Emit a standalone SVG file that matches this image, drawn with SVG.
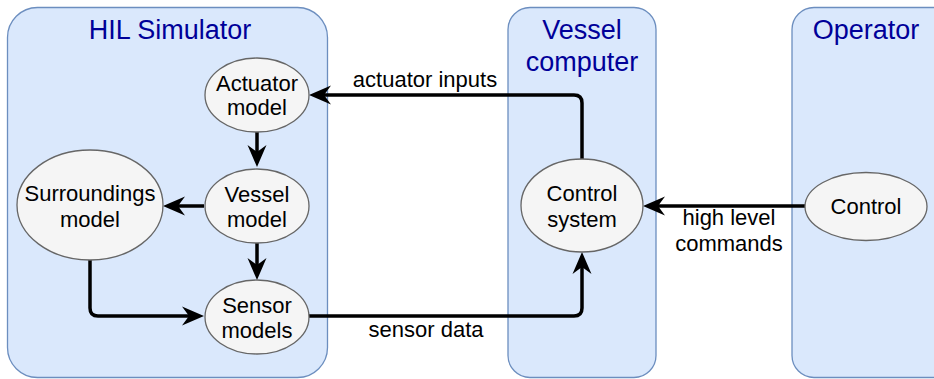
<svg xmlns="http://www.w3.org/2000/svg" width="934" height="379" viewBox="0 0 934 379">
<style>
.cont{fill:#dae8fc;stroke:#6c8ebf;stroke-width:1.3}
.title{font-family:"Liberation Sans",Arial,sans-serif;font-size:27px;fill:#000099;text-anchor:middle}
.node{fill:#f5f5f5;stroke:#666666;stroke-width:1.3}
.lbl{font-family:"Liberation Sans",Arial,sans-serif;font-size:22px;fill:#000000;text-anchor:middle}
.edge{fill:none;stroke:#000000;stroke-width:3.5}
</style>
<defs>
<marker id="arr" markerUnits="userSpaceOnUse" orient="auto" refX="0" refY="0" markerWidth="30" markerHeight="30" overflow="visible">
<path d="M10,0 L-12,-9.5 L-5,0 L-12,9.5 Z" fill="#000000"/>
</marker>
</defs>
<g id="hil-simulator">
<rect class="cont" x="7.5" y="7.5" width="320" height="370" rx="30" ry="30"/>
<text class="title" x="170" y="39">HIL Simulator</text>
</g>
<g id="vessel-computer">
<rect class="cont" x="508" y="7.5" width="148" height="370" rx="22" ry="22"/>
<text class="title" x="582" y="39">Vessel</text>
<text class="title" x="582" y="71">computer</text>
</g>
<g id="operator">
<rect class="cont" x="792" y="7.5" width="170" height="370" rx="22" ry="22"/>
<text class="title" x="866" y="39">Operator</text>
</g>
<g id="connectors">
<path class="edge" d="M582,159 L582,103 Q582,95 574,95 L319,95" marker-end="url(#arr)"/>
<text class="lbl" x="425" y="87">actuator inputs</text>
<path class="edge" d="M257,132 L257,157" marker-end="url(#arr)"/>
<path class="edge" d="M257,243 L257,270" marker-end="url(#arr)"/>
<path class="edge" d="M204,206 L173,206" marker-end="url(#arr)"/>
<path class="edge" d="M90,260 L90,308 Q90,316 98,316 L194,316" marker-end="url(#arr)"/>
<path class="edge" d="M309,316 L574,316 Q582,316 582,308 L582,262" marker-end="url(#arr)"/>
<text class="lbl" x="426" y="337">sensor data</text>
<path class="edge" d="M805,206 L653,206" marker-end="url(#arr)"/>
<text class="lbl" x="729" y="225">high level</text>
<text class="lbl" x="729" y="251">commands</text>
</g>
<g id="actuator-model">
<ellipse class="node" cx="257" cy="95" rx="52" ry="37"/>
<text class="lbl" x="257" y="91">Actuator</text>
<text class="lbl" x="257" y="115">model</text>
</g>
<g id="vessel-model">
<ellipse class="node" cx="257" cy="206" rx="52" ry="37"/>
<text class="lbl" x="257" y="202">Vessel</text>
<text class="lbl" x="257" y="227">model</text>
</g>
<g id="sensor-models">
<ellipse class="node" cx="257" cy="317" rx="52" ry="37"/>
<text class="lbl" x="257" y="313">Sensor</text>
<text class="lbl" x="257" y="338">models</text>
</g>
<g id="surroundings-model">
<ellipse class="node" cx="90" cy="205" rx="73" ry="55"/>
<text class="lbl" x="90" y="201">Surroundings</text>
<text class="lbl" x="90" y="227">model</text>
</g>
<g id="control-system">
<ellipse class="node" cx="582" cy="205.5" rx="61" ry="46.5"/>
<text class="lbl" x="582" y="201">Control</text>
<text class="lbl" x="582" y="227">system</text>
</g>
<g id="control">
<ellipse class="node" cx="866" cy="206.5" rx="61" ry="34"/>
<text class="lbl" x="866" y="214">Control</text>
</g>
</svg>
